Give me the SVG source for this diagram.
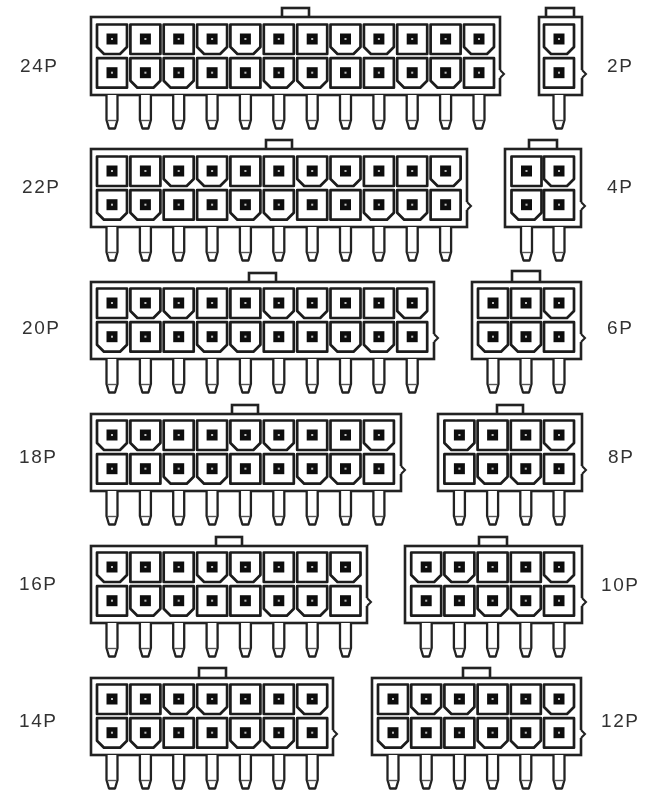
<svg xmlns="http://www.w3.org/2000/svg" width="652" height="795" viewBox="0 0 652 795">
<style>
.h{fill:#fff;stroke:#222;stroke-width:2.6}
.c{fill:#fff;stroke:#1a1a1a;stroke-width:2.7;stroke-linejoin:round}
.p{fill:#fff;stroke:#222;stroke-width:2.3;stroke-linejoin:round}
.q{fill:none;stroke:#555;stroke-width:1.4}
.nt{fill:#fff;stroke:#222;stroke-width:2}
.l{font-family:"Liberation Sans",Arial,sans-serif;font-size:19px;fill:#333;letter-spacing:1.6px}
</style>
<defs>
<filter id="b" x="-5%" y="-5%" width="110%" height="110%"><feGaussianBlur stdDeviation="0.55"/></filter>
<g id="pin"><path class="p" d="M-5.5 56V81L-3 89.5H3L5.5 81V56"/><path class="q" d="M-4.5 81.5H4.5"/></g>
<g id="sq"><rect x="-5.5" y="-5.5" width="11" height="11" fill="#111"/><rect x="-1" y="-1" width="2" height="2" fill="#bbb"/></g>
<path id="cs" class="c" d="M-15 -14.5H15V15H-15Z"/>
<path id="cc" class="c" d="M-15 -14.5H15V8L8 15H-8L-15 8Z"/>
<g id="A"><use href="#pin"/><use href="#cc"/><use href="#sq"/><use href="#cs" y="33.7"/><use href="#sq" y="33.7"/></g>
<g id="B"><use href="#pin"/><use href="#cs"/><use href="#sq"/><use href="#cc" y="33.7"/><use href="#sq" y="33.7"/></g>
<path id="nt" class="nt" d="M0 -4L4 0L0 4"/>
</defs>
<rect width="652" height="795" fill="#fff"/>

<g id="p24" filter="url(#b)" transform="translate(0,39)">
<rect class="h" x="282" y="-31" width="27" height="12"/><rect class="h" x="91" y="-22" width="409" height="78"/>
<rect x="498" y="31" width="4" height="8" fill="#fff"/><use href="#nt" x="500" y="35"/>
<use href="#A" x="112"/><use href="#B" x="145.4"/><use href="#B" x="178.7"/><use href="#A" x="212.1"/><use href="#A" x="245.4"/><use href="#B" x="278.8"/><use href="#B" x="312.2"/><use href="#A" x="345.5"/><use href="#A" x="378.9"/><use href="#B" x="412.2"/><use href="#B" x="445.6"/><use href="#A" x="479"/>
<text class="l" x="20" y="33">24P</text></g>

<g id="p22" filter="url(#b)" transform="translate(0,171)">
<rect class="h" x="266" y="-31" width="26" height="12"/><rect class="h" x="91" y="-22" width="376" height="78"/>
<rect x="465" y="31" width="4" height="8" fill="#fff"/><use href="#nt" x="467" y="35"/>
<use href="#B" x="112"/><use href="#B" x="145.4"/><use href="#A" x="178.7"/><use href="#A" x="212.1"/><use href="#B" x="245.4"/><use href="#B" x="278.8"/><use href="#A" x="312.2"/><use href="#A" x="345.5"/><use href="#B" x="378.9"/><use href="#B" x="412.2"/><use href="#A" x="445.6"/>
<text class="l" x="22" y="22">22P</text></g>

<g id="p20" filter="url(#b)" transform="translate(0,303)">
<rect class="h" x="249" y="-30" width="27" height="11"/><rect class="h" x="91" y="-21" width="343" height="77"/>
<rect x="432" y="31" width="4" height="8" fill="#fff"/><use href="#nt" x="434" y="35"/>
<use href="#B" x="112"/><use href="#A" x="145.4"/><use href="#A" x="178.7"/><use href="#B" x="212.1"/><use href="#B" x="245.4"/><use href="#A" x="278.8"/><use href="#A" x="312.2"/><use href="#B" x="345.5"/><use href="#B" x="378.9"/><use href="#A" x="412.2"/>
<text class="l" x="22" y="31">20P</text></g>

<g id="p18" filter="url(#b)" transform="translate(0,435)">
<rect class="h" x="232" y="-30" width="26" height="11"/><rect class="h" x="91" y="-21" width="310" height="77"/>
<rect x="399" y="31" width="4" height="8" fill="#fff"/><use href="#nt" x="401" y="35"/>
<use href="#A" x="112"/><use href="#A" x="145.4"/><use href="#B" x="178.7"/><use href="#B" x="212.1"/><use href="#A" x="245.4"/><use href="#A" x="278.8"/><use href="#B" x="312.2"/><use href="#B" x="345.5"/><use href="#A" x="378.9"/>
<text class="l" x="19" y="28">18P</text></g>

<g id="p16" filter="url(#b)" transform="translate(0,567)">
<rect class="h" x="216" y="-30" width="26" height="11"/><rect class="h" x="91" y="-21" width="276" height="77"/>
<rect x="365" y="31" width="4" height="8" fill="#fff"/><use href="#nt" x="367" y="35"/>
<use href="#A" x="112"/><use href="#B" x="145.4"/><use href="#B" x="178.7"/><use href="#A" x="212.1"/><use href="#A" x="245.4"/><use href="#B" x="278.8"/><use href="#B" x="312.2"/><use href="#A" x="345.5"/>
<text class="l" x="19" y="23">16P</text></g>

<g id="p14" filter="url(#b)" transform="translate(0,699)">
<rect class="h" x="199" y="-31" width="27" height="12"/><rect class="h" x="91" y="-21" width="242" height="77"/>
<rect x="331" y="31" width="4" height="8" fill="#fff"/><use href="#nt" x="333" y="35"/>
<use href="#B" x="112"/><use href="#B" x="145.4"/><use href="#A" x="178.7"/><use href="#A" x="212.1"/><use href="#B" x="245.4"/><use href="#B" x="278.8"/><use href="#A" x="312.2"/>
<text class="l" x="19" y="28">14P</text></g>

<g id="p2" filter="url(#b)" transform="translate(0,39)">
<rect class="h" x="546" y="-31" width="28" height="12"/><rect class="h" x="539" y="-22" width="43" height="78"/>
<rect x="580" y="31" width="4" height="8" fill="#fff"/><use href="#nt" x="582" y="35"/>
<use href="#A" x="559"/>
<text class="l" x="607" y="33">2P</text></g>

<g id="p4" filter="url(#b)" transform="translate(0,171)">
<rect class="h" x="529" y="-31" width="28" height="12"/><rect class="h" x="505" y="-22" width="76" height="78"/>
<rect x="579" y="31" width="4" height="8" fill="#fff"/><use href="#nt" x="581" y="35"/>
<use href="#B" x="526.5"/><use href="#A" x="559"/>
<text class="l" x="607" y="22">4P</text></g>

<g id="p6" filter="url(#b)" transform="translate(0,303)">
<rect class="h" x="512" y="-32" width="28" height="12"/><rect class="h" x="472" y="-21" width="109" height="77"/>
<rect x="579" y="31" width="4" height="8" fill="#fff"/><use href="#nt" x="581" y="35"/>
<use href="#B" x="493"/><use href="#B" x="526"/><use href="#A" x="559"/>
<text class="l" x="607" y="31">6P</text></g>

<g id="p8" filter="url(#b)" transform="translate(0,435)">
<rect class="h" x="497" y="-30" width="26" height="11"/><rect class="h" x="438" y="-21" width="144" height="77"/>
<rect x="580" y="31" width="4" height="8" fill="#fff"/><use href="#nt" x="582" y="35"/>
<use href="#A" x="459.4"/><use href="#B" x="492.6"/><use href="#B" x="525.8"/><use href="#A" x="559"/>
<text class="l" x="608" y="28">8P</text></g>

<g id="p10" filter="url(#b)" transform="translate(0,567)">
<rect class="h" x="479" y="-30" width="28" height="11"/><rect class="h" x="405" y="-21" width="177" height="77"/>
<rect x="580" y="31" width="4" height="8" fill="#fff"/><use href="#nt" x="582" y="35"/>
<use href="#A" x="426.2"/><use href="#A" x="459.4"/><use href="#B" x="492.6"/><use href="#B" x="525.8"/><use href="#A" x="559"/>
<text class="l" x="601" y="24">10P</text></g>

<g id="p12" filter="url(#b)" transform="translate(0,699)">
<rect class="h" x="463" y="-31" width="27" height="12"/><rect class="h" x="372" y="-21" width="209" height="77"/>
<rect x="579" y="31" width="4" height="8" fill="#fff"/><use href="#nt" x="581" y="35"/>
<use href="#B" x="393"/><use href="#A" x="426.2"/><use href="#A" x="459.4"/><use href="#B" x="492.6"/><use href="#B" x="525.8"/><use href="#A" x="559"/>
<text class="l" x="601" y="28">12P</text></g>
</svg>
